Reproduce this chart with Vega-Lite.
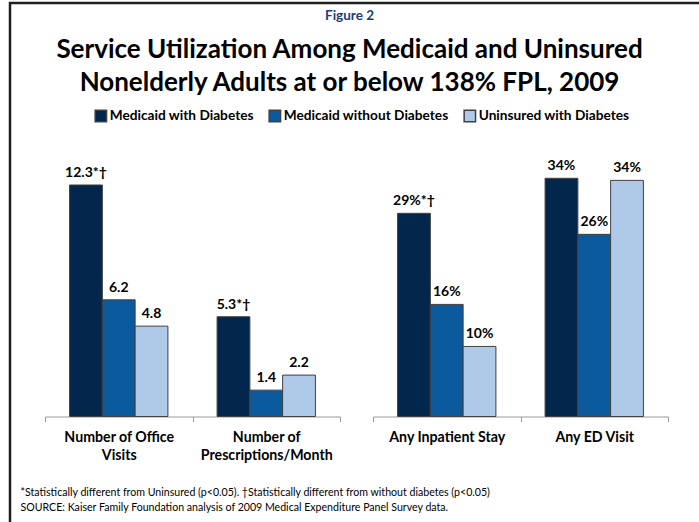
{
  "$schema": "https://vega.github.io/schema/vega-lite/v6.json",
  "autosize": {"type": "none"},
  "padding": {"left": 10, "top": 3, "right": 0, "bottom": 0},
  "width": 689,
  "height": 519,
  "background": "white",
  "view": {"stroke": "#1f1f1f", "strokeWidth": 2.5, "strokeDash": [689, 1208, 519]},
  "title": {
    "text": "Figure 2",
    "subtitle": ["Service Utilization Among Medicaid and Uninsured", "Nonelderly Adults at or below 138% FPL, 2009"],
    "orient": "top",
    "anchor": "middle",
    "frame": "group",
    "offset": -93,
    "dx": -5,
    "font": "Lato",
    "fontSize": 13.5,
    "fontWeight": "bold",
    "color": "#1F3A7A",
    "subtitleFont": "Lato",
    "subtitleFontSize": 26,
    "subtitleFontWeight": "bold",
    "subtitleColor": "black",
    "subtitleLineHeight": 33,
    "subtitlePadding": 15
  },
  "datasets": {
    "counts": [
      {"measure": "Number of Office Visits", "series": "Medicaid with Diabetes", "value": 12.3, "label": "12.3*†"},
      {"measure": "Number of Office Visits", "series": "Medicaid without Diabetes", "value": 6.2, "label": "6.2"},
      {"measure": "Number of Office Visits", "series": "Uninsured with Diabetes", "value": 4.8, "label": "4.8"},
      {"measure": "Number of Prescriptions/Month", "series": "Medicaid with Diabetes", "value": 5.3, "label": "5.3*†"},
      {"measure": "Number of Prescriptions/Month", "series": "Medicaid without Diabetes", "value": 1.4, "label": "1.4"},
      {"measure": "Number of Prescriptions/Month", "series": "Uninsured with Diabetes", "value": 2.2, "label": "2.2"}
    ],
    "shares": [
      {"measure": "Any Inpatient Stay", "series": "Medicaid with Diabetes", "value": 29, "label": "29%*†"},
      {"measure": "Any Inpatient Stay", "series": "Medicaid without Diabetes", "value": 16, "label": "16%"},
      {"measure": "Any Inpatient Stay", "series": "Uninsured with Diabetes", "value": 10, "label": "10%"},
      {"measure": "Any ED Visit", "series": "Medicaid with Diabetes", "value": 34, "label": "34%"},
      {"measure": "Any ED Visit", "series": "Medicaid without Diabetes", "value": 26, "label": "26%"},
      {"measure": "Any ED Visit", "series": "Uninsured with Diabetes", "value": 33.7, "label": "34%"}
    ]
  },
  "layer": [
    {
      "data": {"name": "counts"},
      "encoding": {
        "x": {
          "field": "measure", "type": "nominal",
          "scale": {"domain": ["Number of Office Visits", "Number of Prescriptions/Month"], "range": [35, 330], "paddingInner": 0, "paddingOuter": 0},
          "axis": {
            "orient": "bottom",
            "offset": -105.5,
            "title": ["*Statistically different from Uninsured (p<0.05). †Statistically different from without diabetes (p<0.05)", "SOURCE: Kaiser Family Foundation analysis of 2009 Medical Expenditure Panel Survey data."],
            "titleFont": "Lato", "titleFontSize": 10.6, "titleFontWeight": "normal", "titleColor": "black",
            "titleAnchor": "start", "titleAlign": "left", "titleBaseline": "top", "titleX": 10, "titleY": 71, "titleLineHeight": 15,
            "domainColor": "#9a9a9a", "tickColor": "#9a9a9a", "tickSize": 5, "tickBand": "extent",
            "labelFont": "Lato", "labelFontSize": 14.2, "labelFontWeight": "bold", "labelColor": "black",
            "labelAngle": 0, "labelPadding": 9, "labelLineHeight": 18, "labelLimit": 0,
            "labelExpr": "datum.label == 'Number of Office Visits' ? ['Number of Office', 'Visits'] : datum.label == 'Number of Prescriptions/Month' ? ['Number of', 'Prescriptions/Month'] : ''"
          }
        },
        "xOffset": {
          "field": "series", "type": "nominal",
          "scale": {"domain": ["Medicaid with Diabetes", "Medicaid without Diabetes", "Uninsured with Diabetes"], "paddingInner": 0, "paddingOuter": 0.75}
        },
        "y": {"field": "value", "type": "quantitative", "scale": {"domain": [-5.606, 21.97]}, "axis": null}
      },
      "layer": [
        {
          "mark": {"type": "bar", "stroke": "#404040", "strokeWidth": 1},
          "encoding": {
            "y2": {"datum": 0},
            "color": {
              "field": "series", "type": "nominal",
              "scale": {"domain": ["Medicaid with Diabetes", "Medicaid without Diabetes", "Uninsured with Diabetes"], "range": ["#03274C", "#0C5A9E", "#AFC9E8"]},
              "legend": {
                "orient": "none", "legendX": 84, "legendY": 106, "direction": "horizontal", "title": null,
                "symbolType": "square", "symbolSize": 130, "symbolStrokeColor": "black", "symbolStrokeWidth": 1.5,
                "labelFont": "Lato", "labelFontSize": 13.7, "labelFontWeight": "bold", "labelColor": "black",
                "labelOffset": 2, "columnPadding": 12, "padding": 0, "labelLimit": 0
              }
            }
          }
        },
        {
          "mark": {"type": "text", "baseline": "bottom", "dy": -5, "font": "Lato", "fontSize": 14, "fontWeight": "bold", "color": "black"},
          "encoding": {"text": {"field": "label", "type": "nominal"}}
        }
      ]
    },
    {
      "data": {"name": "shares"},
      "encoding": {
        "x": {
          "field": "measure", "type": "nominal",
          "scale": {"domain": ["Any Inpatient Stay", "Any ED Visit"], "range": [363, 658], "paddingInner": 0, "paddingOuter": 0},
          "axis": {
            "orient": "bottom",
            "offset": -105.5,
            "title": null,
            "domainColor": "#9a9a9a", "tickColor": "#9a9a9a", "tickSize": 5, "tickBand": "extent",
            "labelFont": "Lato", "labelFontSize": 14.2, "labelFontWeight": "bold", "labelColor": "black",
            "labelAngle": 0, "labelPadding": 9, "labelLimit": 0,
            "labelExpr": "datum.label == 'Any Inpatient Stay' || datum.label == 'Any ED Visit' ? datum.label : ''"
          }
        },
        "xOffset": {
          "field": "series", "type": "nominal",
          "scale": {"domain": ["Medicaid with Diabetes", "Medicaid without Diabetes", "Uninsured with Diabetes"], "paddingInner": 0, "paddingOuter": 0.75}
        },
        "y": {"field": "value", "type": "quantitative", "scale": {"domain": [-15.06, 59.02]}, "axis": null}
      },
      "layer": [
        {
          "mark": {"type": "bar", "stroke": "#404040", "strokeWidth": 1},
          "encoding": {
            "y2": {"datum": 0},
            "color": {"field": "series", "type": "nominal"}
          }
        },
        {
          "mark": {"type": "text", "baseline": "bottom", "dy": -5, "font": "Lato", "fontSize": 14, "fontWeight": "bold", "color": "black"},
          "encoding": {"text": {"field": "label", "type": "nominal"}}
        }
      ]
    }
  ],
  "resolve": {
    "scale": {"x": "independent", "y": "independent", "xOffset": "independent", "color": "shared"},
    "axis": {"x": "independent", "y": "independent"}
  }
}
